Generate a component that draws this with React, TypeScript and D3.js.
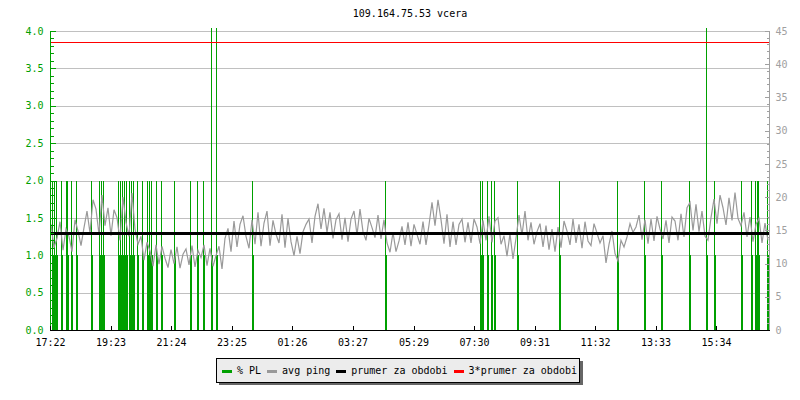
import React, { useEffect, useRef } from "react";
import * as d3 from "d3";

// graf ping / packet loss za posledni den
const title = "109.164.75.53 vcera";

const timeTicks = [0, 121, 242, 363, 484, 605, 727, 848, 969, 1090, 1211, 1332];
const timeLabels = ["17:22", "19:23", "21:24", "23:25", "01:26", "03:27", "05:29", "07:30", "09:31", "11:32", "13:33", "15:34"];
const plTicks = [0, 0.5, 1, 1.5, 2, 2.5, 3, 3.5, 4];
const pingTicks = [0, 5, 10, 15, 20, 25, 30, 35, 40, 45];

// packet loss udalosti (minuty od 17:22) a hodnota v %
const lossMinutes = [4, 8, 12, 22, 31, 34, 42, 52, 82, 98, 102, 106, 135, 139, 143, 147, 151, 157, 161, 165, 174, 183, 194, 198, 202, 211, 222, 248, 280, 294, 306, 322, 331, 404, 670, 860, 863, 874, 882, 888, 934, 1018, 1134, 1188, 1222, 1278, 1311, 1313, 1328, 1382, 1402, 1410, 1414, 1417, 1434];
const lossValues = [2, 2, 2, 2, 2, 2, 2, 2, 2, 2, 2, 2, 2, 2, 2, 2, 2, 2, 2, 2, 2, 2, 2, 2, 2, 2, 2, 2, 2, 2, 2, 4.2, 4.2, 2, 2, 2, 2, 2, 2, 2, 2, 2, 2, 2, 2, 2, 4.2, 2, 2, 2, 2, 2, 2, 2, 2];

// avg ping v ms, vzorek kazdych 6 minut
const pingStep = 6;
const pingMs = [
  15.9, 12.4, 13.8, 16.3, 12.0, 15.2, 14.1, 11.8, 16.6, 14.9,
  12.7, 15.4, 17.9, 14.6, 19.6, 18.2, 14.4, 20.3, 15.7, 18.4,
  14.2, 18.1, 16.9, 13.5, 20.0, 16.2, 14.1, 20.6, 15.2, 12.9,
  14.1, 10.5, 13.2, 11.9, 9.6, 12.8, 9.9, 12.6, 10.8, 9.4,
  12.1, 10.0, 12.5, 9.3, 11.4, 12.2, 9.8, 12.7, 9.5, 12.0,
  10.9, 12.8, 9.7, 12.3, 9.6, 11.2, 12.6, 9.2, 13.8, 15.3,
  11.8, 16.4, 12.5, 15.9, 17.2, 14.1, 12.3, 16.6, 12.9, 17.7,
  12.6, 16.1, 17.9, 12.7, 16.5, 14.4, 13.1, 17.4, 12.4, 16.8,
  13.3, 11.2, 14.1, 11.5, 14.8, 15.9, 16.7, 13.1, 17.1, 19.0,
  15.2, 18.3, 14.7, 17.7, 13.8, 16.6, 17.5, 13.6, 16.9, 13.3,
  16.7, 17.9, 14.3, 18.2, 14.8, 13.5, 16.8, 15.4, 13.9, 17.3,
  13.7, 16.6, 13.1, 11.7, 14.7, 11.8, 13.4, 15.6, 12.8, 16.2,
  12.6, 15.9, 14.4, 12.9, 16.3, 12.8, 15.8, 19.2, 15.7, 19.6,
  16.6, 13.0, 17.4, 12.5, 16.3, 12.8, 15.9, 16.7, 13.2, 16.2,
  13.1, 16.7, 15.5, 13.0, 16.5, 13.5, 17.1, 13.2, 16.4, 16.9,
  12.9, 14.2, 11.1, 14.5, 10.7, 13.8, 17.3, 14.3, 17.9, 13.5,
  16.2, 12.9, 14.8, 16.0, 12.5, 15.7, 12.1, 15.2, 11.8, 15.5,
  12.4, 16.4, 14.9, 12.8, 16.7, 13.1, 15.9, 12.3, 16.3, 13.4,
  12.7, 16.0, 14.6, 13.1, 14.2, 10.1, 12.9, 14.9, 11.5, 10.4,
  13.5, 12.5, 14.0, 16.0, 14.7, 15.5, 17.3, 13.6, 16.6, 13.0,
  16.7, 13.4, 17.1, 15.2, 13.7, 16.5, 13.1, 17.0, 16.4, 13.5,
  17.5, 14.0, 18.4, 19.2, 15.0, 18.9, 14.8, 17.9, 14.1, 13.5,
  16.9, 19.7, 16.0, 20.3, 18.4, 15.8, 19.9, 16.5, 20.7, 16.8,
  15.7, 17.7, 14.0, 17.0, 13.3, 15.9, 16.8, 13.1, 16.1, 13.5,
];
const pingMean = 14.45;

const legendLabels = ["% PL", "avg ping", "prumer za obdobi", "3*prumer za obdobi"];
const legendColors = ["#00a000", "#999999", "#000000", "#ff0000"];

const W = 800;
const H = 400;
const FONT = "'DejaVu Sans Mono', monospace";

const PingChart = () => {
  const svgRef = useRef(null);

  useEffect(() => {
    const svg = d3.select(svgRef.current);
    svg.selectAll("*").remove();

    const x = d3.scaleLinear().domain([0, 1440]).range([50, 770]);
    const yPl = d3.scaleLinear().domain([0, 4]).range([330, 31]);
    const yPing = d3.scaleLinear().domain([0, 45]).range([330, 31]);

    svg.append("rect").attr("width", W).attr("height", H).attr("fill", "#fff");

    svg
      .append("text")
      .attr("x", (x.range()[0] + x.range()[1]) / 2)
      .attr("y", 17)
      .attr("text-anchor", "middle")
      .attr("font-family", FONT)
      .attr("font-size", 10)
      .text(title);

    // mrizka
    svg
      .append("g")
      .selectAll("line")
      .data(plTicks.filter((d) => d > 0))
      .join("line")
      .attr("x1", 50)
      .attr("x2", 770)
      .attr("y1", (d) => Math.round(yPl(d)) + 0.5)
      .attr("y2", (d) => Math.round(yPl(d)) + 0.5)
      .attr("stroke", "#c0c0c0")
      .attr("shape-rendering", "crispEdges");

    // packet loss
    const loss = lossMinutes.map((t, i) => ({ t, v: lossValues[i] }));
    const gLoss = svg.append("g").attr("shape-rendering", "crispEdges");
    gLoss
      .selectAll("line.thin")
      .data(loss)
      .join("line")
      .attr("class", "thin")
      .attr("x1", (d) => Math.round(x(d.t)) + 0.5)
      .attr("x2", (d) => Math.round(x(d.t)) + 0.5)
      .attr("y1", yPl(0))
      .attr("y2", (d) => Math.max(yPl(d.v), 28))
      .attr("stroke", legendColors[0]);
    gLoss
      .selectAll("rect")
      .data(loss)
      .join("rect")
      .attr("x", (d) => Math.round(x(d.t)))
      .attr("width", 2)
      .attr("y", yPl(1))
      .attr("height", yPl(0) - yPl(1))
      .attr("fill", legendColors[0]);

    // avg ping
    const line = d3
      .line()
      .x((d, i) => x(i * pingStep) + 1)
      .y((d) => yPing(d));
    svg
      .append("path")
      .attr("d", line(pingMs))
      .attr("fill", "none")
      .attr("stroke", legendColors[1])
      .attr("stroke-width", 1.2);

    // prumer a 3*prumer
    svg
      .append("line")
      .attr("x1", 50)
      .attr("x2", 770)
      .attr("y1", yPing(pingMean))
      .attr("y2", yPing(pingMean))
      .attr("stroke", "#000")
      .attr("stroke-width", 3)
      .attr("shape-rendering", "crispEdges");
    svg
      .append("line")
      .attr("x1", 50)
      .attr("x2", 770)
      .attr("y1", Math.round(yPing(pingMean * 3)) + 0.5)
      .attr("y2", Math.round(yPing(pingMean * 3)) + 0.5)
      .attr("stroke", "#ff0000")
      .attr("shape-rendering", "crispEdges");

    // osy
    const txt = (g) => g.selectAll("text").attr("font-family", FONT).attr("font-size", 10);

    const left = svg
      .append("g")
      .attr("transform", "translate(50.5,0)")
      .call(d3.axisRight(yPl).tickValues(d3.range(0, 4.01, 0.1)).tickSize(3).tickFormat(() => ""))
      .attr("shape-rendering", "crispEdges");
    left.select(".domain").remove();
    left.selectAll("line").attr("stroke", legendColors[0]);
    const leftMaj = svg
      .append("g")
      .attr("transform", "translate(50.5,0)")
      .call(d3.axisRight(yPl).tickValues(plTicks).tickSize(5).tickFormat(d3.format(".1f")))
      .attr("shape-rendering", "crispEdges");
    leftMaj.select(".domain").attr("stroke", legendColors[0]).attr("d", `M0,${yPl(4)}V${yPl(0)}`);
    leftMaj.selectAll("line").attr("stroke", legendColors[0]);
    leftMaj.selectAll("text").attr("x", -7).attr("text-anchor", "end").attr("fill", legendColors[0]);
    txt(leftMaj);

    const right = svg
      .append("g")
      .attr("transform", "translate(769.5,0)")
      .call(d3.axisLeft(yPing).tickValues(d3.range(0, 46, 1)).tickSize(3).tickFormat(() => ""))
      .attr("shape-rendering", "crispEdges");
    right.select(".domain").remove();
    right.selectAll("line").attr("stroke", "#a0a0a0");
    const rightMaj = svg
      .append("g")
      .attr("transform", "translate(769.5,0)")
      .call(d3.axisLeft(yPing).tickValues(pingTicks).tickSize(5))
      .attr("shape-rendering", "crispEdges");
    rightMaj.select(".domain").attr("stroke", "#a0a0a0").attr("d", `M0,${yPing(45)}V${yPing(0)}`);
    rightMaj.selectAll("line").attr("stroke", "#a0a0a0");
    rightMaj.selectAll("text").attr("x", 6).attr("text-anchor", "start").attr("fill", "#a0a0a0");
    txt(rightMaj);

    const bottom = svg
      .append("g")
      .attr("transform", "translate(0,330.5)")
      .call(
        d3
          .axisTop(x)
          .tickValues(timeTicks)
          .tickSize(5)
          .tickFormat((d, i) => timeLabels[i])
      )
      .attr("shape-rendering", "crispEdges");
    bottom.select(".domain").attr("d", `M${x(0)},0H${x(1440)}`).attr("stroke", "#000");
    bottom.selectAll("text").attr("y", 15).attr("fill", "#000");
    txt(bottom);

    // legenda
    const lg = svg.append("g").attr("shape-rendering", "crispEdges");
    lg.append("rect").attr("x", 219).attr("y", 361).attr("width", 364).attr("height", 24).attr("fill", "#666");
    lg.append("rect")
      .attr("x", 216.5)
      .attr("y", 358.5)
      .attr("width", 363)
      .attr("height", 24)
      .attr("fill", "#ececec")
      .attr("stroke", "#000");
    let lx = 222;
    legendLabels.forEach((lab, i) => {
      lg.append("rect").attr("x", lx).attr("y", 370).attr("width", 10).attr("height", 3).attr("fill", legendColors[i]);
      const t = lg
        .append("text")
        .attr("x", lx + 15)
        .attr("y", 374)
        .attr("font-family", FONT)
        .attr("font-size", 10)
        .attr("fill", "#000")
        .text(lab);
      lx = lx + 15 + t.node().getComputedTextLength() + 6;
    });
  }, []);

  return <svg ref={svgRef} width={W} height={H} style={{ display: "block" }} />;
};

export default function App() {
  return (
    <div>
      <style>{`body{margin:0}`}</style>
      <PingChart />
    </div>
  );
}
